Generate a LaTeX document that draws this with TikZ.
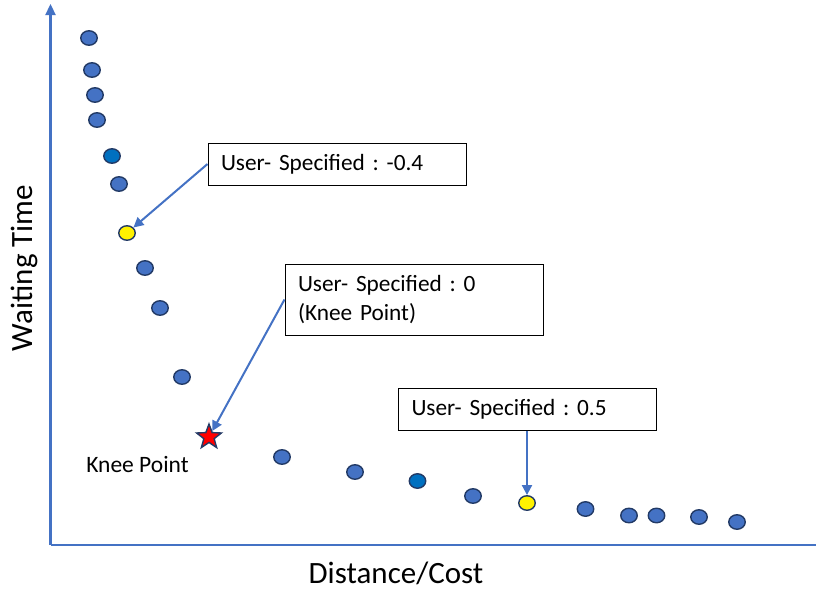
\documentclass[tikz,border=0pt]{standalone}
\usepackage{fontspec}
\setmainfont{Carlito}
\frenchspacing
\usetikzlibrary{shapes.geometric,arrows.meta}
\definecolor{axisblue}{HTML}{4472C4}
\definecolor{dotfill}{HTML}{4472C4}
\definecolor{dotline}{HTML}{223A66}
\definecolor{deepblue}{HTML}{0070C0}
\tikzset{
  dot/.style={ellipse,draw=dotline,line width=1.4pt,fill=dotfill,minimum width=16.5pt,minimum height=14.5pt,inner sep=0pt},
  deepdot/.style={dot,fill=deepblue},
  userdot/.style={dot,fill=yellow},
  kneestar/.style={star,star points=5,star point ratio=2.4,draw=dotline,line width=1.4pt,fill=red,minimum size=26pt,inner sep=0pt},
  callout/.style={draw=black,line width=1pt,fill=white,inner xsep=13pt,inner ysep=0pt,text width=232pt,align=left,font=\fontsize{23.3}{29}\selectfont},
  pointer/.style={draw=axisblue,line width=2pt,-{Triangle[length=10pt,width=10pt]}},
  axis/.style={draw=axisblue,line width=2.3pt},
  label/.style={font=\fontsize{31}{36}\selectfont}
}
\begin{document}
\begin{tikzpicture}[x=1pt,y=-1pt]
\useasboundingbox (0,0) rectangle (816,592);
% axes
\coordinate (origin) at (50.5,545);
\coordinate (ytop) at (50.5,4);
\coordinate (xend) at (828,545);
\draw[axis,-{Triangle[length=11pt,width=10pt]}] (origin) -- (ytop);
\draw[axis,-{Triangle[length=11pt,width=10pt]}] (origin) -- (xend);
% axis labels
\node[label,rotate=90] (ylab) at (24,268) {Waiting Time};
\node[label,anchor=base] (xlab) at (396,583) {Distance/Cost};
% solution points
\node[dot] (p1) at (89,38) {};
\node[dot] (p2) at (92,70) {};
\node[dot] (p3) at (95,95) {};
\node[dot] (p4) at (97,120) {};
\node[deepdot] (p5) at (112,156) {};
\node[dot] (p6) at (119,184) {};
\node[userdot] (u1) at (127,233) {};
\node[dot] (p7) at (145,268) {};
\node[dot] (p8) at (160,308) {};
\node[dot] (p9) at (182,377) {};
\node[kneestar] (knee) at (209,437) {};
\node[dot] (p10) at (282,457) {};
\node[dot] (p11) at (355,472) {};
\node[deepdot] (p12) at (417.5,481) {};
\node[dot] (p13) at (473,496) {};
\node[userdot] (u2) at (527,503) {};
\node[dot] (p14) at (585.5,509) {};
\node[dot] (p15) at (629,515.5) {};
\node[dot] (p16) at (656.5,515.5) {};
\node[dot] (p17) at (699,517) {};
\node[dot] (p18) at (737,522) {};
\node[anchor=base,font=\fontsize{23.5}{28}\selectfont] (kneelab) at (137.5,472) {Knee Point};
% callouts
\node[callout,minimum height=42pt] (c1) at (337,164) {User- Specified : -0.4};
\node[callout,minimum height=71pt] (c2) at (414,299.5) {User- Specified : 0\\(Knee Point)};
\node[callout,minimum height=42pt] (c3) at (527.5,409) {User- Specified : 0.5};
\draw[pointer] (c1.west) -- (u1);
\draw[pointer] (c2.west) -- (knee);
\draw[pointer] (c3.south -| u2) -- (u2);
\end{tikzpicture}
\end{document}
